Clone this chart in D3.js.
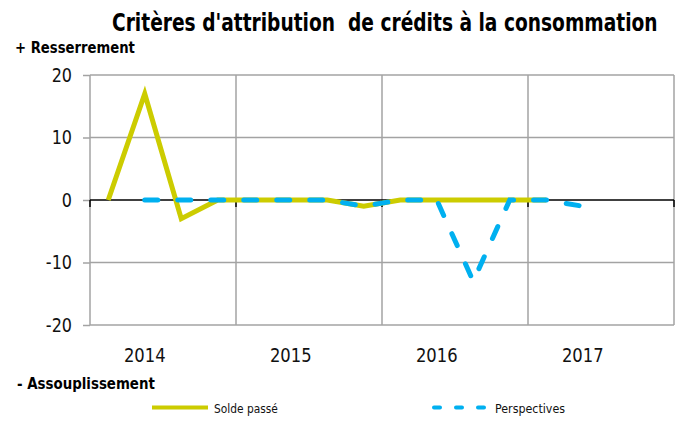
<!DOCTYPE html>
<html><head><meta charset="utf-8">
<script src="https://cdn.jsdelivr.net/npm/d3@7/dist/d3.min.js"></script>
<style>
html,body{margin:0;padding:0;background:#fff;}
svg{display:block;font-family:"DejaVu Sans",Verdana,sans-serif;}
</style></head>
<body>
<svg id="chart" width="683" height="421"></svg>
<script>
const quarters = ["2014T1","2014T2","2014T3","2014T4","2015T1","2015T2","2015T3","2015T4",
                  "2016T1","2016T2","2016T3","2016T4","2017T1","2017T2","2017T3","2017T4"];
const yearLabels = ["2014","2015","2016","2017"];
const soldePasse =   [0,17,-3,0, 0,0,0,-1, 0,0,0,0, 0,null,null,null];
const perspectives = [null,0,0,0, 0,0,0,-1, 0,0,-13,0, 0,-1,null,null];
const yTicks = [-20,-10,0,10,20];
const seriesNames = ["Solde passé","Perspectives"];

const svg = d3.select("#chart");
const x = d3.scaleBand().domain(d3.range(quarters.length)).range([90,674]).padding(0);
const y = d3.scaleLinear().domain([-20,20]).range([325,75]);
const cx = i => x(i) + x.bandwidth()/2;
const grid = "#a3a3a3";

// horizontally condense a text element by scaling around its anchor x
function condense(sel, factor){
  sel.each(function(){
    const t = d3.select(this);
    const x0 = +t.attr("x") || 0;
    const y0 = +t.attr("y") || 0;
    t.attr("x",0).attr("y",0)
     .attr("transform",`translate(${x0},${y0}) scale(${factor},1)`);
  });
}
function fitWidth(sel, w){
  sel.each(function(){
    const n = this.getComputedTextLength();
    condense(d3.select(this), w/n);
  });
}

// y axis ticks
const yAxis = svg.append("g").attr("transform","translate(90,0)")
  .call(d3.axisLeft(y).tickValues(yTicks).tickSize(7).tickPadding(11).tickFormat(d => String(d)));
yAxis.select(".domain").remove();
yAxis.selectAll("line").attr("stroke",grid).attr("stroke-width",1.5);
yAxis.selectAll("text").attr("font-size",20).attr("fill","#111")
  .attr("font-family","DejaVu Sans, sans-serif");
condense(yAxis.selectAll("text"), 0.8);

svg.append("g").selectAll("line").data(yTicks.filter(d=>d!==0)).join("line")
  .attr("x1",90).attr("x2",674).attr("y1",d=>y(d)).attr("y2",d=>y(d))
  .attr("stroke",grid).attr("stroke-width",1.5);

// vertical gridlines at year boundaries
const bounds = d3.range(0,quarters.length+1,4);
const bx = i => i < quarters.length ? x(i) : x.range()[1];
svg.append("g").selectAll("line").data(bounds).join("line")
  .attr("x1",d=>bx(d)).attr("x2",d=>bx(d)).attr("y1",y(20)).attr("y2",y(-20))
  .attr("stroke",grid).attr("stroke-width",1.5);

// zero axis
svg.append("line").attr("x1",90).attr("x2",674).attr("y1",y(0)).attr("y2",y(0))
  .attr("stroke","#000").attr("stroke-width",1.5);
svg.append("g").selectAll("line").data(bounds).join("line")
  .attr("x1",d=>bx(d)).attr("x2",d=>bx(d)).attr("y1",y(0)).attr("y2",y(0)+7)
  .attr("stroke","#000").attr("stroke-width",1.5);

// year labels
svg.append("g").selectAll("text").data(yearLabels).join("text")
  .attr("x",(d,i)=>cx(i*4+1)).attr("y",362).attr("text-anchor","middle")
  .attr("font-size",20).attr("fill","#111").text(d=>d)
  .call(s=>condense(s,0.82));

// lines
const line = d3.line().defined(d=>d!==null).x((d,i)=>cx(i)).y(d=>y(d));
svg.append("path").datum(soldePasse).attr("d",line).attr("fill","none")
  .attr("stroke","#CCCC00").attr("stroke-width",5).attr("stroke-linejoin","miter");
svg.append("path").datum(perspectives).attr("d",line).attr("fill","none")
  .attr("stroke","#00B0F0").attr("stroke-width",5).attr("stroke-linecap","round")
  .attr("stroke-dasharray","13,20");

// title & annotations
svg.append("text").attr("x",112).attr("y",31).attr("font-size",25).attr("font-weight","bold")
  .attr("fill","#000").text("Critères d'attribution  de crédits à la consommation")
  .style("white-space","pre").call(s=>fitWidth(s,546));
svg.append("text").attr("x",15).attr("y",53).attr("font-size",15).attr("font-weight","bold")
  .attr("fill","#000").text("+ Resserrement").call(s=>fitWidth(s,120));
svg.append("text").attr("x",17).attr("y",389).attr("font-size",15).attr("font-weight","bold")
  .attr("fill","#000").text("- Assouplissement").call(s=>fitWidth(s,138));

// legend
const lg = svg.append("g");
lg.append("line").attr("x1",152).attr("x2",208).attr("y1",407.5).attr("y2",407.5)
  .attr("stroke","#CCCC00").attr("stroke-width",4);
lg.append("text").attr("x",214).attr("y",413).attr("font-size",13).attr("fill","#111")
  .text(seriesNames[0]).call(s=>fitWidth(s,64));
lg.append("line").attr("x1",434).attr("x2",486).attr("y1",407.5).attr("y2",407.5)
  .attr("stroke","#00B0F0").attr("stroke-width",4).attr("stroke-linecap","round")
  .attr("stroke-dasharray","6,16");
lg.append("text").attr("x",495).attr("y",413).attr("font-size",13).attr("fill","#111")
  .text(seriesNames[1]).call(s=>fitWidth(s,70));
</script>
</body></html>
